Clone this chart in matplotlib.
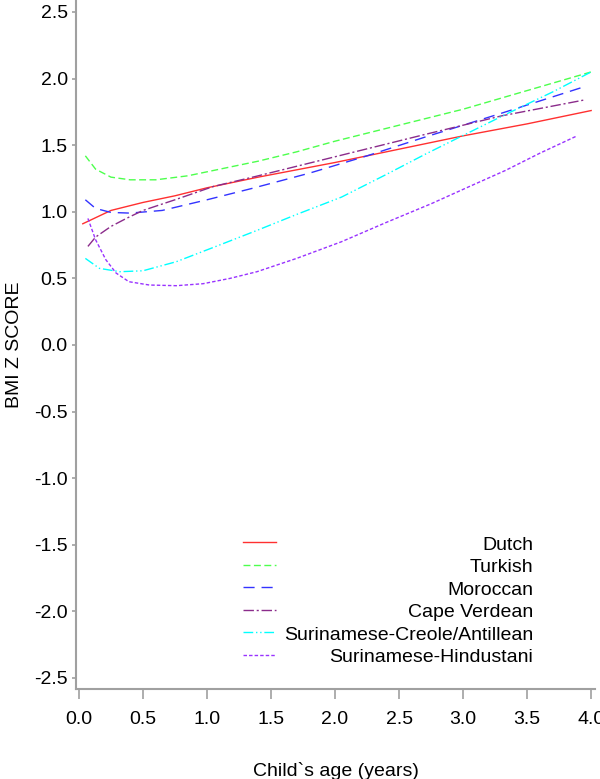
import matplotlib
matplotlib.use("Agg")
import matplotlib.pyplot as plt
from matplotlib.lines import Line2D
import numpy as np

plt.rcParams['font.family'] = ['Liberation Sans', 'DejaVu Sans']

# BMI z-score curves (age in years, z score)
dutch_x = [0.03, 0.25, 0.5, 0.75, 1.0, 1.4, 2.0, 2.5, 3.0, 3.5, 4.0]
dutch_y = [0.91, 1.01, 1.07, 1.12, 1.18, 1.26, 1.37, 1.47, 1.57, 1.66, 1.76]

turkish_x = [0.05, 0.13, 0.25, 0.4, 0.6, 0.85, 1.1, 1.4, 1.7, 2.0, 2.5, 3.0, 3.5, 4.0]
turkish_y = [1.42, 1.32, 1.26, 1.24, 1.24, 1.27, 1.32, 1.38, 1.45, 1.53, 1.65, 1.77, 1.91, 2.05]

moroccan_x = [0.05, 0.13, 0.25, 0.4, 0.65, 1.0, 1.35, 1.8, 2.25, 2.7, 3.3, 3.95]
moroccan_y = [1.09, 1.025, 0.995, 0.99, 1.01, 1.09, 1.175, 1.29, 1.42, 1.56, 1.74, 1.94]

capeverde_x = [0.07, 0.13, 0.25, 0.37, 0.5, 0.75, 1.05, 1.4, 2.05, 2.7, 3.3, 3.95]
capeverde_y = [0.74, 0.81, 0.89, 0.95, 1.01, 1.09, 1.19, 1.27, 1.425, 1.58, 1.72, 1.84]

creole_x = [0.05, 0.16, 0.32, 0.5, 0.76, 1.07, 1.39, 1.7, 2.05, 2.4, 2.7, 2.93, 3.33, 3.7, 4.0]
creole_y = [0.65, 0.575, 0.55, 0.557, 0.625, 0.74, 0.86, 0.98, 1.11, 1.28, 1.43, 1.54, 1.73, 1.9, 2.05]

hindustani_x = [0.07, 0.13, 0.21, 0.29, 0.39, 0.55, 0.76, 0.97, 1.18, 1.39, 1.7, 2.05,
                2.4, 2.75, 3.05, 3.33, 3.6, 3.89]
hindustani_y = [0.95, 0.79, 0.64, 0.54, 0.475, 0.45, 0.445, 0.46, 0.5, 0.55, 0.65, 0.775,
                0.92, 1.06, 1.19, 1.31, 1.44, 1.57]

labels = ['Dutch', 'Turkish', 'Moroccan', 'Cape Verdean',
          'Surinamese-Creole/Antillean', 'Surinamese-Hindustani']
xs = [dutch_x, turkish_x, moroccan_x, capeverde_x, creole_x, hindustani_x]
ys = [dutch_y, turkish_y, moroccan_y, capeverde_y, creole_y, hindustani_y]
colors = ['#ff3030', '#4dff4d', '#3333ff', '#8b2c8b', '#00ffff', '#9933ff']
dashes = ['-', (0, (5, 2.5)), (0, (8, 5)), (0, (7.5, 2, 1.5, 2)),
          (0, (7, 2, 1, 2, 1, 2)), (0, (2.5, 1.5))]

xticks = np.arange(0, 4.01, 0.5)
yticks = np.arange(-2.5, 2.51, 0.5)

fig = plt.figure(figsize=(6, 7.79), dpi=100)
ax = fig.add_axes([76/600, 90/779, 519/600, 689/779])

for x, y, c, d in zip(xs, ys, colors, dashes):
    ax.plot(x, y, color=c, linestyle=d, lw=1.0)

ax.set_xlim(-0.023, 4.03)
ax.set_ylim(-2.583, 2.59)
ax.set_xticks(xticks)
ax.set_xticklabels(['%.1f' % v for v in xticks])
ax.set_yticks(yticks)
ax.set_yticklabels(['%.1f' % v for v in yticks])

for s in ['top', 'right']:
    ax.spines[s].set_visible(False)
for s in ['left', 'bottom']:
    ax.spines[s].set_color('#a0a0a0')
    ax.spines[s].set_linewidth(1.5)
ax.tick_params(axis='x', length=7, width=1.2, color='#a0a0a0', labelsize=14, pad=9)
ax.tick_params(axis='y', length=3, width=1.2, color='#a0a0a0', labelsize=14, pad=3)

ax.set_xlabel('Child`s age (years)', fontsize=14, labelpad=24)
ax.set_ylabel('BMI Z SCORE', fontsize=14, labelpad=8)

# legend drawn by hand: lines on the left, text right aligned
for i, (lab, c, d) in enumerate(zip(labels, colors, dashes)):
    yy = 1 - (542 + i * 22.6) / 779
    fig.add_artist(Line2D([243/600, 276/600], [yy, yy], color=c, linestyle=d,
                          lw=1.0, transform=fig.transFigure))
    fig.text(533/600, yy - 3/779, lab, ha='right', va='center', fontsize=14)

plt.savefig('out.png', dpi=100)
